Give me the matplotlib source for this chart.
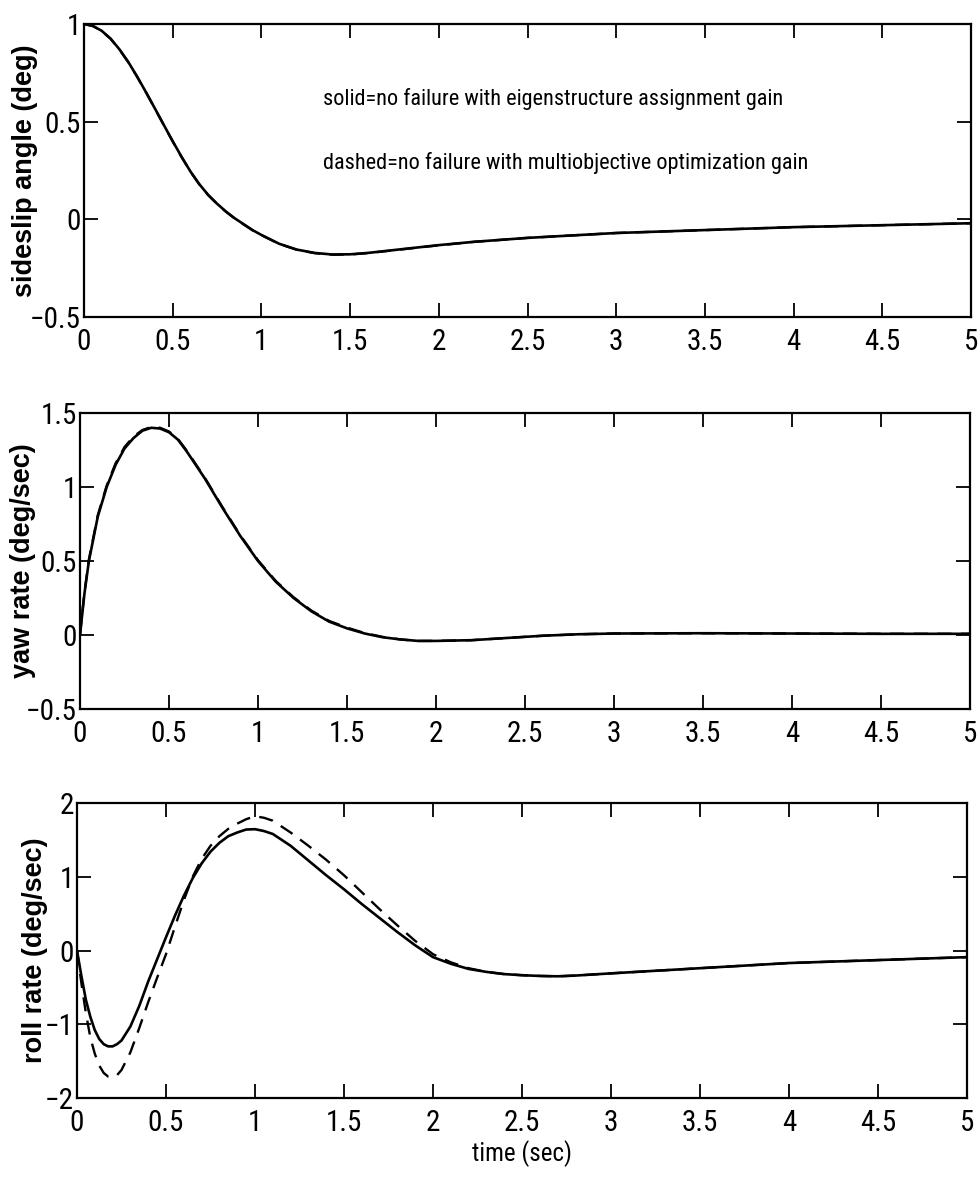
import matplotlib
matplotlib.use("Agg")
import matplotlib.pyplot as plt
from matplotlib import font_manager as fm

# pick a narrow sans for the numbers / notes (reference uses Helvetica Narrow)
installed = {(f.name, f.stretch) for f in fm.fontManager.ttflist}
names = {n for n, s in installed}
narrow_name, narrow_stretch, nscale = 'DejaVu Sans', 'normal', 0.8
for cand in ['Liberation Sans Narrow', 'Arial Narrow', 'Roboto Condensed',
             'Open Sans Condensed']:
    if cand in names:
        narrow_name, narrow_stretch, nscale = cand, 'normal', 1.0
        break
else:
    for n, s in installed:
        if n in ('Roboto', 'Open Sans', 'DejaVu Sans') and s in (
                'condensed', 'semi-condensed', 'extra-condensed'):
            narrow_name, narrow_stretch, nscale = n, s, 0.9
            break
narrow = [narrow_name, 'DejaVu Sans']
bold_sans = ['Liberation Sans', 'DejaVu Sans']

# ---- data ----
t_beta = [0, 0.05, 0.1, 0.15, 0.2, 0.25, 0.3, 0.35, 0.4, 0.45, 0.5, 0.55, 0.6,
          0.65, 0.7, 0.75, 0.8, 0.85, 0.9, 0.95, 1.0, 1.1, 1.2, 1.3, 1.4, 1.5,
          1.6, 1.8, 2.0, 2.2, 2.5, 2.8, 3.0, 3.5, 4.0, 4.5, 5.0]
beta_eig = [1.0, 0.99, 0.965, 0.925, 0.87, 0.805, 0.73, 0.65, 0.567, 0.483, 0.40,
            0.32, 0.245, 0.18, 0.125, 0.08, 0.04, 0.005, -0.025, -0.055, -0.08,
            -0.125, -0.155, -0.172, -0.18, -0.179, -0.172, -0.152, -0.132,
            -0.115, -0.095, -0.08, -0.07, -0.055, -0.04, -0.03, -0.02]
beta_opt = [1.0, 0.99, 0.964, 0.924, 0.869, 0.804, 0.729, 0.649, 0.566, 0.482,
            0.399, 0.319, 0.244, 0.179, 0.124, 0.079, 0.039, 0.004, -0.026,
            -0.056, -0.081, -0.126, -0.156, -0.173, -0.181, -0.18, -0.173,
            -0.153, -0.133, -0.115, -0.095, -0.08, -0.07, -0.055, -0.04, -0.03,
            -0.02]

t_yaw = [0, 0.025, 0.05, 0.1, 0.15, 0.2, 0.25, 0.3, 0.35, 0.4, 0.45, 0.5, 0.55,
         0.6, 0.7, 0.8, 0.9, 1.0, 1.1, 1.2, 1.3, 1.4, 1.5, 1.6, 1.7, 1.8, 1.9,
         2.0, 2.2, 2.4, 2.6, 2.8, 3.0, 3.5, 4.0, 4.5, 5.0]
yaw_eig = [0, 0.28, 0.50, 0.80, 1.0, 1.15, 1.26, 1.33, 1.38, 1.40, 1.395, 1.37,
           1.32, 1.24, 1.06, 0.86, 0.67, 0.50, 0.36, 0.25, 0.16, 0.09, 0.045,
           0.01, -0.015, -0.03, -0.04, -0.04, -0.035, -0.02, -0.005, 0.005,
           0.01, 0.012, 0.01, 0.008, 0.008]
yaw_opt = [0, 0.29, 0.51, 0.81, 1.01, 1.16, 1.27, 1.34, 1.385, 1.405, 1.40, 1.375,
           1.325, 1.245, 1.065, 0.865, 0.675, 0.505, 0.365, 0.255, 0.165, 0.095,
           0.05, 0.013, -0.013, -0.03, -0.04, -0.04, -0.035, -0.02, -0.005,
           0.005, 0.01, 0.012, 0.01, 0.008, 0.008]

t_roll = [0, 0.025, 0.05, 0.075, 0.1, 0.125, 0.15, 0.175, 0.2, 0.225, 0.25, 0.3,
          0.35, 0.4, 0.45, 0.5, 0.55, 0.6, 0.65, 0.7, 0.75, 0.8, 0.85, 0.9,
          0.95, 1.0, 1.05, 1.1, 1.2, 1.3, 1.4, 1.5, 1.6, 1.7, 1.8, 1.9, 2.0,
          2.1, 2.2, 2.3, 2.4, 2.5, 2.6, 2.7, 2.8, 3.0, 3.5, 4.0, 4.5, 5.0]
roll_eig = [0, -0.35, -0.67, -0.90, -1.08, -1.20, -1.27, -1.30, -1.30, -1.27,
            -1.22, -1.03, -0.75, -0.42, -0.12, 0.18, 0.47, 0.74, 0.98, 1.18,
            1.34, 1.46, 1.55, 1.60, 1.64, 1.645, 1.62, 1.58, 1.42, 1.22, 1.02,
            0.83, 0.63, 0.44, 0.25, 0.07, -0.09, -0.18, -0.25, -0.29, -0.32,
            -0.335, -0.345, -0.35, -0.34, -0.31, -0.24, -0.17, -0.13, -0.09]
roll_opt = [0, -0.45, -0.85, -1.18, -1.40, -1.56, -1.66, -1.71, -1.72, -1.69,
            -1.62, -1.38, -1.05, -0.70, -0.37, -0.05, 0.32, 0.68, 1.00, 1.24,
            1.42, 1.55, 1.65, 1.72, 1.78, 1.82, 1.80, 1.76, 1.60, 1.42, 1.23,
            1.02, 0.79, 0.56, 0.34, 0.13, -0.05, -0.16, -0.24, -0.29, -0.32,
            -0.335, -0.345, -0.35, -0.34, -0.31, -0.24, -0.17, -0.13, -0.09]

x_ticks = [0, 0.5, 1, 1.5, 2, 2.5, 3, 3.5, 4, 4.5, 5]
x_labels = ['0', '0.5', '1', '1.5', '2', '2.5', '3', '3.5', '4', '4.5', '5']

panels = [
    (t_beta, beta_eig, beta_opt, 'sideslip angle (deg)', (-0.5, 1),
     [-0.5, 0, 0.5, 1], ['\u22120.5', '0', '0.5', '1']),
    (t_yaw, yaw_eig, yaw_opt, 'yaw rate (deg/sec)', (-0.5, 1.5),
     [-0.5, 0, 0.5, 1, 1.5], ['\u22120.5', '0', '0.5', '1', '1.5']),
    (t_roll, roll_eig, roll_opt, 'roll rate (deg/sec)', (-2, 2),
     [-2, -1, 0, 1, 2], ['\u22122', '\u22121', '0', '1', '2']),
]

W, H = 980, 1178
# axes boxes in pixels: left, top, right, bottom
boxes = [(84, 24, 971, 317), (80, 413, 970, 709), (77, 803, 967, 1098)]
# x pixel of the y-label centre in the reference
ylab_x = [25, 23, 35]

nfont = dict(family=narrow, stretch=narrow_stretch)
tick_fs = 21 * nscale

fig = plt.figure(figsize=(W / 100, H / 100), dpi=100)
axes = []
for (l, t, r, b), lx, (tt, y1, y2, ylab, ylim, yt, ytl) in zip(boxes, ylab_x,
                                                              panels):
    ax = fig.add_axes([l / W, 1 - b / H, (r - l) / W, (b - t) / H])
    ax.plot(tt, y1, color='black', lw=1.9, solid_capstyle='round')
    ax.plot(tt, y2, color='black', lw=1.7, ls=(0, (6, 4)))
    ax.set_xlim(0, 5)
    ax.set_ylim(*ylim)
    ax.set_xticks(x_ticks)
    ax.set_xticklabels(x_labels, fontsize=tick_fs, **nfont)
    ax.set_yticks(yt)
    ax.set_yticklabels(ytl, fontsize=tick_fs, **nfont)
    ax.tick_params(direction='in', length=10, width=1.3, top=True, right=True,
                   color='black')
    ax.tick_params(axis='x', pad=8)
    ax.tick_params(axis='y', pad=2)
    for s in ax.spines.values():
        s.set_linewidth(1.6)
    ax.set_ylabel(ylab, family=bold_sans, fontweight='bold', fontsize=19.5,
                  va='center')
    ax.yaxis.set_label_coords((lx - l) / (r - l), 0.5)
    axes.append(ax)

axes[0].text(1.35, 0.615, 'solid=no failure with eigenstructure assignment gain',
             fontsize=16 * nscale, va='center', ha='left', **nfont)
axes[0].text(1.35, 0.29, 'dashed=no failure with multiobjective optimization gain',
             fontsize=16 * nscale, va='center', ha='left', **nfont)
axes[2].set_xlabel('time (sec)', fontsize=18 * nscale, labelpad=2, **nfont)

fig.savefig('out.png', dpi=100)
